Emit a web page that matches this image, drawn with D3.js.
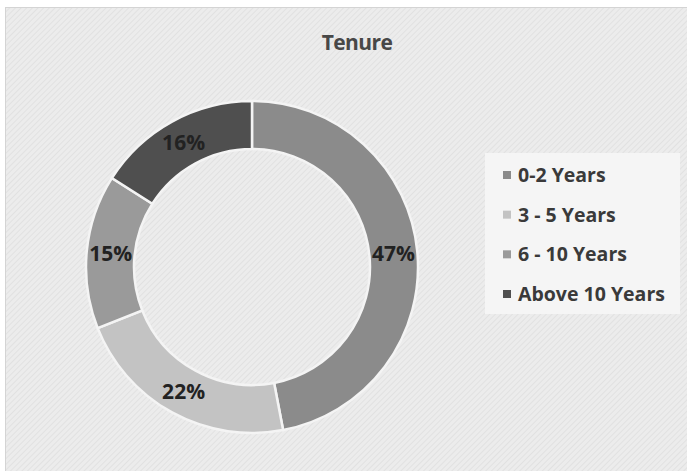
<!DOCTYPE html>
<meta charset="utf-8">
<script src="https://d3js.org/d3.v7.min.js"></script>
<style>
  body { margin: 0; background: #fff; }
  text { font-family: "Open Sans", "Liberation Sans", sans-serif; }
</style>
<div id="chart"></div>
<script>

// data
var categories = ["0-2 Years", "3 - 5 Years", "6 - 10 Years", "Above 10 Years"];
var values = [47, 22, 15, 16];
var colors = ["#8b8b8b", "#c3c3c3", "#9a9a9a", "#4f4f4f"];

var width = 687, height = 471;
var cx = 252, cy = 267, outerR = 166, innerR = 118;

var svg = d3.select("#chart")
  .append("svg")
    .attr("width", width)
    .attr("height", height);

// hatched grey background like the Excel chart area
var defs = svg.append("defs");
var pat = defs.append("pattern")
    .attr("id", "hatch")
    .attr("width", 4)
    .attr("height", 4)
    .attr("patternUnits", "userSpaceOnUse")
    .attr("patternTransform", "rotate(45)");
pat.append("rect").attr("width", 4).attr("height", 4).attr("fill", "#ececec");
pat.append("line").attr("x1", 0).attr("y1", 0).attr("x2", 0).attr("y2", 4)
    .attr("stroke", "#dedede").attr("stroke-width", 1.5);

svg.append("rect")
    .attr("x", 5.5).attr("y", 7.5)
    .attr("width", width).attr("height", height)
    .attr("fill", "url(#hatch)")
    .attr("stroke", "#d4d4d4");

svg.append("text")
    .attr("x", 357)
    .attr("y", 50)
    .attr("text-anchor", "middle")
    .style("font-size", "21px")
    .style("font-weight", "bold")
    .style("letter-spacing", "-0.6px")
    .attr("fill", "#484848")
    .text("Tenure");

var pie = d3.pie().sort(null).value(function(d) { return d; });
var arc = d3.arc().innerRadius(innerR).outerRadius(outerR);
var labelArc = d3.arc().innerRadius((innerR + outerR) / 2).outerRadius((innerR + outerR) / 2);

var g = svg.append("g")
    .attr("transform", "translate(" + cx + "," + cy + ")");

var slices = g.selectAll("g.slice")
  .data(pie(values))
  .enter()
  .append("g")
    .attr("class", "slice");

slices.append("path")
    .attr("d", arc)
    .attr("fill", function(d, i) { return colors[i]; })
    .attr("stroke", "#f4f4f4")
    .attr("stroke-width", 2.5);

slices.append("text")
    .attr("transform", function(d) { return "translate(" + labelArc.centroid(d) + ")"; })
    .attr("text-anchor", "middle")
    .attr("dy", "0.36em")
    .style("font-size", "21px")
    .style("font-weight", "bold")
    .attr("fill", "#222")
    .text(function(d) { return d.data + "%"; });

// legend
var legend = svg.append("g");
legend.append("rect")
    .attr("x", 485).attr("y", 153)
    .attr("width", 195).attr("height", 161)
    .attr("fill", "#f5f5f5");

var rowY = d3.scalePoint().domain(categories).range([175, 294]);

var items = legend.selectAll("g.item")
  .data(categories)
  .enter()
  .append("g")
    .attr("class", "item")
    .attr("transform", function(d) { return "translate(0," + rowY(d) + ")"; });

items.append("rect")
    .attr("x", 503).attr("y", -4)
    .attr("width", 8).attr("height", 8)
    .attr("fill", function(d, i) { return colors[i]; });

items.append("text")
    .attr("x", 518)
    .attr("dy", "0.36em")
    .style("font-size", "19.5px")
    .style("font-weight", "bold")
    .attr("fill", "#3a3a3a")
    .text(function(d) { return d; });

</script>
